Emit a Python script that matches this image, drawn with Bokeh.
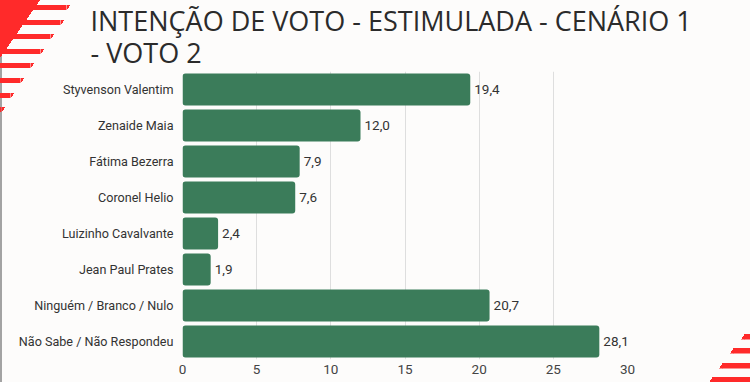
from bokeh.plotting import figure
from bokeh.models import FactorRange, Range1d, Title, ColumnDataSource, FixedTicker
from bokeh.core.properties import value
from bokeh.embed import file_html
from bokeh.resources import INLINE

# ---- data ----
categories = [
    "Styvenson Valentim",
    "Zenaide Maia",
    "Fátima Bezerra",
    "Coronel Helio",
    "Luizinho Cavalvante",
    "Jean Paul Prates",
    "Ninguém / Branco / Nulo",
    "Não Sabe / Não Respondeu",
]
values = [19.4, 12.0, 7.9, 7.6, 2.4, 1.9, 20.7, 28.1]
x_ticks = [0, 5, 10, 15, 20, 25, 30]
title_lines = ["INTENÇÃO DE VOTO - ESTIMULADA - CENÁRIO 1", "- VOTO 2"]

labels = [f"{v:.1f}".replace(".", ",") for v in values]
src = ColumnDataSource(dict(cat=categories, val=values, lab=labels))

BG = "#fdfcfb"
BAR = "#3b7c5a"
TXT = "#333333"
FONT = "Roboto"
RED = "#ff2a2a"

W, H = 750, 382
FL, FR, FT, FB = 182, 123, 71, 23   # frame borders

# ---- decorative corner stripes as CSS background layers of the figure host ----
def rect(x, y, w, h, color=RED):
    return f"linear-gradient({color}, {color}) {x}px {y}px / {w}px {h}px no-repeat"

def tri(x, y, w, h, direction):
    return f"linear-gradient({direction}, {RED} 50%, transparent 50%) {x}px {y}px / {w}px {h}px no-repeat"

layers = [tri(0, 0, 40, 58, "to bottom right")]
SL = 3.5  # slant of stripe ends
for y0, xr in [(5, 70), (20, 64), (34, 54), (49, 44), (63, 34), (78, 24), (93, 14), (107, 5)]:
    layers.append(rect(0, y0, max(xr - SL, 0), 5))
    layers.append(tri(max(xr - SL, 0), y0, SL, 5, "to bottom right"))
for y0, xl in [(334, 744), (348, 733), (363, 722), (377, 712)]:
    layers.append(rect(xl, y0, W - xl, 5.5))
    layers.append(tri(xl - SL, y0, SL, 5.5, "to top left"))
layers.append(rect(0, 0, 2, H, "#a3a3a3"))
css_bg = ", ".join(layers)

p = figure(
    width=W, height=H,
    y_range=FactorRange(factors=list(reversed(categories))),
    x_range=Range1d(0, 30),
    output_backend="svg", toolbar_location=None, title=None,
    min_border_left=FL, min_border_right=FR, min_border_top=FT, min_border_bottom=FB,
    background_fill_color=BG, border_fill_color=BG, border_fill_alpha=0,
    outline_line_color=None,
    styles={"background": css_bg, "background-color": BG},
)

t = Title(text="\n".join(title_lines), align="left", offset=-92, standoff=0,
          text_font="Open Sans", text_font_size="27px", text_font_style="normal",
          text_line_height=0.87, text_color="#2b2b2b")
p.add_layout(t, "above")

p.hbar(y="cat", right="val", left=0, height=0.89, source=src,
       fill_color=BAR, line_color=None, border_radius=3)
p.text(x="val", y="cat", text="lab", source=src, x_offset=4,
       text_baseline="middle", text_align="left",
       text_font=value(FONT), text_font_size="13.5px", text_color=TXT)

for ax in (p.xaxis, p.yaxis):
    ax.axis_line_color = None
    ax.major_tick_line_color = None
    ax.minor_tick_line_color = None
    ax.major_tick_out = 0
    ax.major_tick_in = 0
    ax.minor_tick_out = 0
    ax.minor_tick_in = 0
    ax.major_label_text_font = FONT

p.xaxis.ticker = FixedTicker(ticks=x_ticks)
p.xaxis.major_label_standoff = 5
p.xaxis.major_label_text_font_size = "13.5px"
p.xaxis.major_label_text_color = "#444444"
p.yaxis.major_label_standoff = 9
p.yaxis.major_label_text_font_size = "12.6px"
p.yaxis.major_label_text_color = TXT

p.ygrid.grid_line_color = None
p.xgrid.grid_line_color = "#dedede"
p.xgrid.ticker = FixedTicker(ticks=x_ticks)

open("out.html", "w").write(file_html(p, INLINE))
